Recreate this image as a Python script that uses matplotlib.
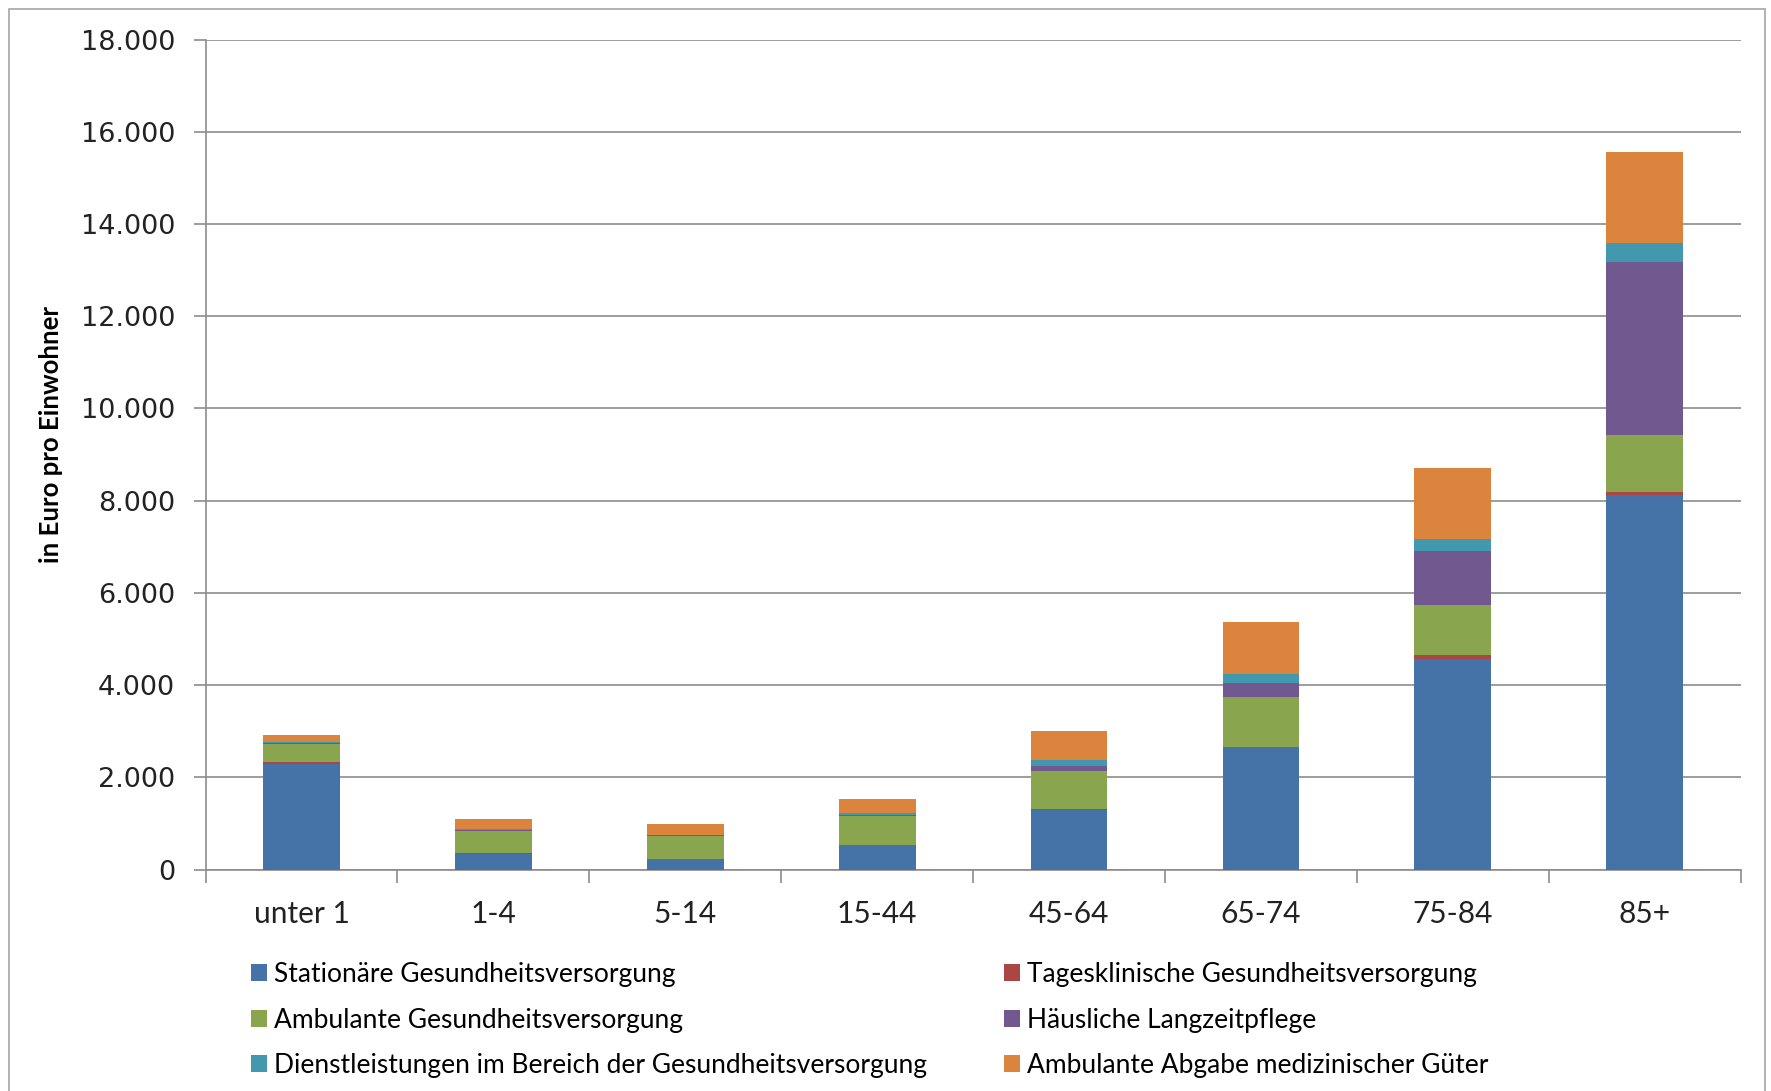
import numpy as np
import matplotlib
matplotlib.use("Agg")
import matplotlib.pyplot as plt
from matplotlib.ticker import FuncFormatter, FixedLocator
from matplotlib.patches import Rectangle

age_groups = ["unter 1", "1-4", "5-14", "15-44", "45-64", "65-74", "75-84", "85+"]

series_names = [
    "Stationäre Gesundheitsversorgung",
    "Tagesklinische Gesundheitsversorgung",
    "Ambulante Gesundheitsversorgung",
    "Häusliche Langzeitpflege",
    "Dienstleistungen im Bereich der Gesundheitsversorgung",
    "Ambulante Abgabe medizinischer Güter",
]

stationaer = [2290, 350, 235, 530, 1290, 2650, 4570, 8130]
tagesklinisch = [35, 5, 5, 15, 20, 20, 80, 50]
ambulant = [395, 475, 480, 615, 830, 1085, 1090, 1250]
haeuslich = [30, 30, 30, 35, 115, 295, 1160, 3740]
dienstleistungen = [20, 15, 10, 45, 120, 190, 260, 410]
abgabe = [140, 220, 230, 295, 635, 1120, 1540, 1980]

colors = ["#4572A7", "#AA4643", "#89A54E", "#71588F", "#4198AF", "#DB843D"]

W, H = 1771, 1091
fig = plt.figure(figsize=(W / 100, H / 100), dpi=100)
ax = fig.add_axes([205.6 / W, 1 - 869.7 / H, (1740.6 - 205.6) / W, (869.7 - 39.5) / H])

x = np.arange(len(age_groups))
bottom = np.zeros(len(age_groups))
handles = []
for name, vals, col in zip(series_names,
                           [stationaer, tagesklinisch, ambulant, haeuslich, dienstleistungen, abgabe],
                           colors):
    b = ax.bar(x, vals, 0.4, bottom=bottom, color=col, label=name, linewidth=0, zorder=3)
    handles.append(b)
    bottom += np.array(vals)

grid_col = "#8C8C8C"
ax.set_xlim(-0.5, len(age_groups) - 0.5)
ax.set_ylim(0, 18000)
ax.yaxis.set_major_locator(FixedLocator(np.arange(0, 18001, 2000)))
ax.yaxis.set_major_formatter(FuncFormatter(lambda v, p: f"{int(v):,}".replace(",", ".")))
ax.grid(axis="y", color=grid_col, linewidth=1.2, zorder=0)
ax.set_axisbelow(True)

for s in ["top", "right"]:
    ax.spines[s].set_visible(False)
for s in ["left", "bottom"]:
    ax.spines[s].set_color(grid_col)
    ax.spines[s].set_linewidth(1.2)

ax.set_xticks(x)
ax.set_xticklabels(age_groups, family="Lato", fontsize=21.5)
ax.set_xticks(np.arange(-0.5, len(age_groups)), minor=True)
ax.tick_params(axis="x", which="major", length=0, pad=22, colors="#222222")
ax.tick_params(axis="x", which="minor", length=9, width=1.2, color=grid_col, direction="out")
ax.tick_params(axis="y", length=9, width=1.2, color=grid_col, pad=13, labelsize=19.5,
               labelcolor="#222222")

ax.set_ylabel("in Euro pro Einwohner", family="Lato", fontweight="bold", fontsize=18.5)
ax.yaxis.set_label_coords(63 / W, 1 - 434 / H, transform=fig.transFigure)

# legend in two columns, row-major like the original
leg_kw = dict(frameon=False, loc="upper left", borderpad=0, borderaxespad=0,
              handlelength=0.62, handleheight=0.62, handletextpad=0.25,
              labelspacing=0.78, prop={"family": "Lato", "size": 19})
fig.legend([handles[i] for i in (0, 2, 4)], [series_names[i] for i in (0, 2, 4)],
           bbox_to_anchor=(251 / W, 1 - 962 / H), **leg_kw)
fig.legend([handles[i] for i in (1, 3, 5)], [series_names[i] for i in (1, 3, 5)],
           bbox_to_anchor=(1004 / W, 1 - 962 / H), **leg_kw)

fig.patches.append(Rectangle((9 / W, -0.05), (1765 - 9) / W, 1.05 - 9 / H,
                             transform=fig.transFigure, fill=False,
                             edgecolor="#A6A6A6", linewidth=1.2))

fig.savefig("out.png", dpi=100)
plt.close(fig)
